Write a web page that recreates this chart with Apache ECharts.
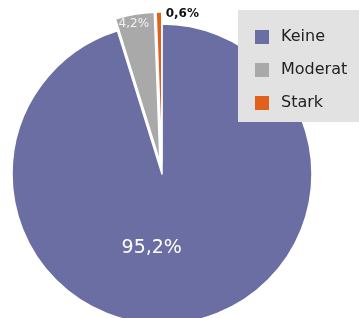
<!DOCTYPE html>
<html>
<head>
<meta charset="utf-8">
<script src="https://cdn.jsdelivr.net/npm/echarts@6/dist/echarts.min.js"></script>
<style>
  html, body { margin: 0; padding: 0; background: #fff; }
  #main { width: 359px; height: 318px; }
</style>
</head>
<body>
<div id="main"></div>
<script>
// Anteile
const categories = ['Keine', 'Moderat', 'Stark'];
const values = [95.2, 4.2, 0.6];
const exploded = [false, true, true];

const colors = ['#6b6ea2', '#a9a9a9', '#e0611b'];
const labelColors = ['#ffffff', '#f2f2f2', '#111111'];
const labelSizes = [19, 12, 12];
// label shifts (dx, dy) relative to the default inside position
const labelShift = [[-22, -3], [-13, -61], [22, -70]];

const chart = echarts.init(document.getElementById('main'));

const pieData = categories.map((name, i) => ({
  name: name,
  value: values[i],
  selected: exploded[i],
  itemStyle: { color: colors[i] },
  label: {
    color: labelColors[i],
    fontSize: labelSizes[i],
    fontWeight: i === 2 ? 'bold' : 'normal'
  }
}));

const option = {
  animation: false,
  legend: {
    orient: 'vertical',
    left: 238,
    top: 10,
    padding: [19, 40, 11, 17],
    backgroundColor: '#e2e2e2',
    icon: 'rect',
    itemWidth: 14,
    itemHeight: 14,
    itemGap: 17,
    selectedMode: false,
    itemStyle: { borderWidth: 0 },
    textStyle: {
      fontFamily: 'DejaVu Sans',
      fontSize: 16,
      color: '#222',
      padding: [0, 0, 0, 7]
    },
    data: categories
  },
  series: [
    {
      type: 'pie',
      center: [162, 174],
      radius: 150,
      startAngle: 90,
      clockwise: true,
      selectedMode: 'multiple',
      selectedOffset: 12,
      silent: true,
      itemStyle: {
        borderColor: '#fff',
        borderWidth: 1.5
      },
      label: {
        show: true,
        position: 'inside',
        fontFamily: 'DejaVu Sans',
        formatter: (p) => p.value.toFixed(1).replace('.', ',') + '%'
      },
      labelLine: { show: false },
      labelLayout: (params) => ({
        dx: labelShift[params.dataIndex][0],
        dy: labelShift[params.dataIndex][1]
      }),
      emphasis: { disabled: true },
      data: pieData
    }
  ]
};

chart.setOption(option);
</script>
</body>
</html>
